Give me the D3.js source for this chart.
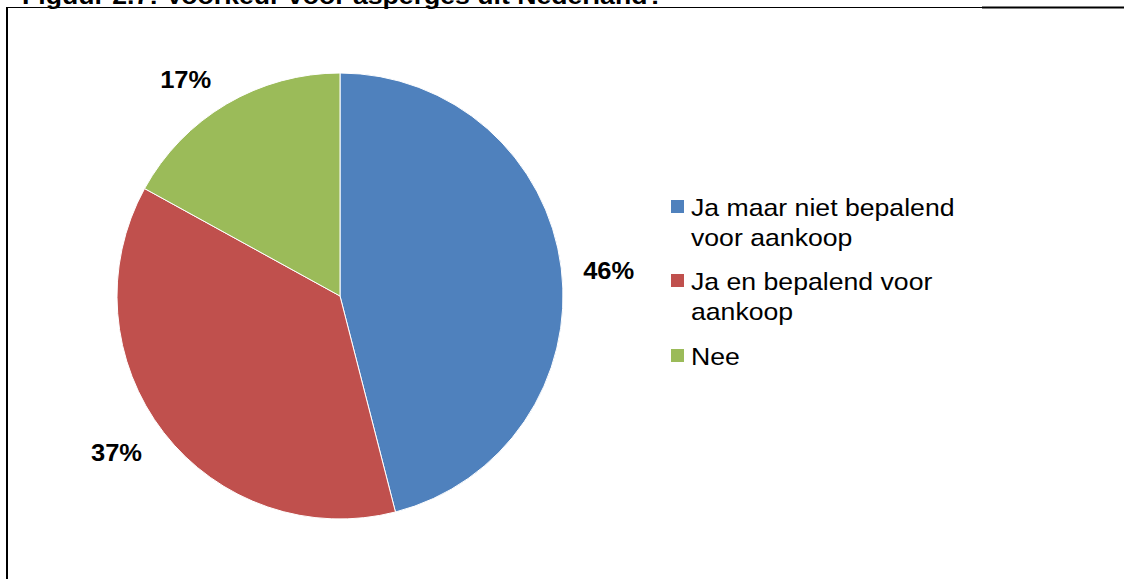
<!DOCTYPE html>
<html>
<head>
<meta charset="utf-8">
<script src="https://cdn.jsdelivr.net/npm/d3@7"></script>
<style>
  html, body { margin: 0; padding: 0; background: #fff; }
  svg { display: block; font-family: Arial, "Liberation Sans", sans-serif; }
</style>
</head>
<body>
<svg id="chart" width="1124" height="579"></svg>
<script>
// Answers to the question about Dutch asparagus
const categories = ["Ja maar niet bepalend voor aankoop", "Ja en bepalend voor aankoop", "Nee"];
const legendLines = [["Ja maar niet bepalend", "voor aankoop"], ["Ja en bepalend voor", "aankoop"], ["Nee"]];
const values = [46, 37, 17];
const colors = ["#4F81BD", "#C0504D", "#9BBB59"];
const titleText = "Figuur 2.7: Voorkeur voor asperges uit Nederland?";

const svg = d3.select("#chart");
const stretch = 1.11;   // text is set slightly wide
const fontSize = 24;

// Figure title (runs off the top edge of the page)
svg.append("text")
  .attr("transform", `translate(22,3.5) scale(${stretch},1)`)
  .attr("font-size", fontSize).attr("font-weight", "bold")
  .attr("fill", "#000")
  .text(titleText);

// Frame around the chart area
svg.append("line").attr("x1", 6).attr("x2", 982).attr("y1", 7.5).attr("y2", 7.5)
  .attr("stroke", "#000").attr("stroke-width", 1);
svg.append("line").attr("x1", 982).attr("x2", 1124).attr("y1", 7.5).attr("y2", 7.5)
  .attr("stroke", "#000").attr("stroke-width", 2);
svg.append("line").attr("x1", 7).attr("x2", 7).attr("y1", 7).attr("y2", 579)
  .attr("stroke", "#000").attr("stroke-width", 2);

// Pie
const cx = 340, cy = 296, r = 223;
const pie = d3.pie().sort(null).value(d => d);
const arcs = pie(values);
const arc = d3.arc().innerRadius(0).outerRadius(r);

const g = svg.append("g").attr("transform", `translate(${cx},${cy})`);
g.selectAll("path").data(arcs).join("path")
  .attr("d", arc)
  .attr("fill", (d, i) => colors[i])
  .attr("stroke", "#fff").attr("stroke-width", 1);

// Percentage labels outside the pie: the label box sits a fixed gap
// beyond the rim along the slice's middle direction, then a small
// per-label shift keeps it clear of the neighbouring text
const gap = 20;
const labelShift = [[1, 8], [-10, -9], [-19, 12]];
g.selectAll("text.pct").data(arcs).join("text")
  .attr("class", "pct")
  .attr("font-size", fontSize - 1).attr("font-weight", "bold")
  .attr("text-anchor", "middle")
  .text(d => d.data + "%")
  .attr("transform", function(d, i) {
    const a = (d.startAngle + d.endAngle) / 2;
    const ux = Math.sin(a), uy = -Math.cos(a);
    const w = this.getComputedTextLength() * stretch, h = fontSize * 0.95;
    const dist = r + gap + Math.abs(ux) * w / 2 + Math.abs(uy) * h / 2;
    const x = ux * dist + labelShift[i][0];
    const y = uy * dist + fontSize * 0.36 + labelShift[i][1];
    return `translate(${x},${y}) scale(${stretch},1)`;
  });

// Legend
const legendBase = [216, 290, 365];
const lg = svg.append("g");
legendLines.forEach((lines, i) => {
  lg.append("rect")
    .attr("x", 671).attr("y", legendBase[i] - 16)
    .attr("width", 13).attr("height", 13)
    .attr("fill", colors[i]);
  const t = lg.append("text")
    .attr("transform", `translate(691,${legendBase[i]}) scale(${stretch},1)`)
    .attr("font-size", fontSize).attr("fill", "#000");
  lines.forEach((ln, j) => {
    t.append("tspan").attr("x", 0).attr("dy", j === 0 ? 0 : 30).text(ln);
  });
});
</script>
</body>
</html>
